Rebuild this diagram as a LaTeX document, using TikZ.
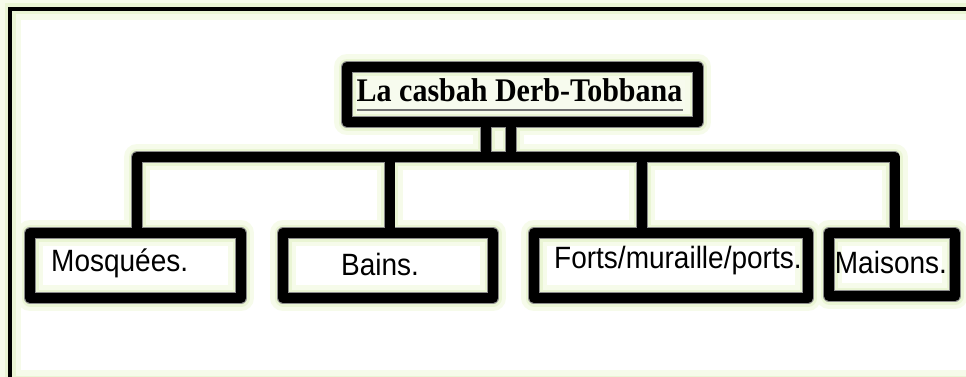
\documentclass[tikz,border=0pt]{standalone}
\usepackage{fontspec}
\newfontfamily\arialf{Liberation Sans}
\newfontfamily\timesf{Liberation Serif}
\definecolor{glowa}{RGB}{246,251,234}
\definecolor{glowb}{RGB}{234,245,212}
\definecolor{titlefill}{RGB}{247,251,238}
\tikzset{
  glowpassa/.style={draw=glowa, line width=26pt, line join=round},
  glowpassb/.style={draw=glowb, line width=17pt, line join=round},
  graypass/.style={draw=black!45, line width=11.5pt, line join=round},
  blackpass/.style={draw=black, line width=10pt, line join=round},
  boxnode/.style={draw=none, inner sep=0pt, outer sep=0pt},
  childtext/.style={inner sep=0pt, anchor=base west, font=\arialf\fontsize{28}{30}\selectfont},
  titletext/.style={inner sep=0pt, anchor=base west, font=\timesf\bfseries\fontsize{30}{32}\selectfont}
}
\newcommand\diagpass[1]{%
  \draw[#1] (ttl.north west) rectangle (ttl.south east);
  \draw[#1] (mos.north west) rectangle (mos.south east);
  \draw[#1] (bai.north west) rectangle (bai.south east);
  \draw[#1] (frt.north west) rectangle (frt.south east);
  \draw[#1] (mai.north west) rectangle (mai.south east);
  \draw[#1] (cm) -- (cm |- bar) -- (cx |- bar) -- (cx);
  \draw[#1] (cb) -- (cb |- bar);
  \draw[#1] (cf) -- (cf |- bar);
  \draw[#1] (ca) -- (ca |- bar);
  \draw[#1] (cc) -- (cc |- bar);
}
\newcommand\tallertext[1]{\scalebox{1}[1.1]{#1}}
\begin{document}
\begin{tikzpicture}[x=1pt,y=-1pt]
\useasboundingbox (0,0) rectangle (966,376);
\clip (0,0) rectangle (966,376);
\fill[white] (0,0) rectangle (966,376);
% outer frame
\coordinate (f1) at (10,8.7);
\coordinate (f2) at (1020,381);
\draw[glowa, line width=22pt] (f1) rectangle (f2);
\draw[glowb, line width=11pt] (f1) rectangle (f2);
\draw[black, line width=3.6pt] (f1) rectangle (f2);
% nodes
\node[boxnode, minimum width=351pt, minimum height=55pt] (ttl) at (522.5,94.5) {};
\node[boxnode, minimum width=211pt, minimum height=65pt] (mos) at (135.5,265.5) {};
\node[boxnode, minimum width=210pt, minimum height=65pt] (bai) at (388,265.5) {};
\node[boxnode, minimum width=274pt, minimum height=65pt] (frt) at (671,265.5) {};
\node[boxnode, minimum width=126pt, minimum height=63pt] (mai) at (892,264.5) {};
\coordinate (bar) at (516,157);
\coordinate (cm) at ([xshift=1.5pt]mos.north);
\coordinate (cb) at ([xshift=1.5pt]bai.north);
\coordinate (cf) at ([xshift=-29pt]frt.north);
\coordinate (cx) at ([xshift=2.7pt]mai.north);
\coordinate (ca) at ([xshift=-36.5pt]ttl.south);
\coordinate (cc) at ([xshift=-11.5pt]ttl.south);
\fill[titlefill] (ttl.north west) rectangle (ttl.south east);
\diagpass{glowpassa}
\diagpass{glowpassb}
\diagpass{graypass}
\diagpass{blackpass}
% texts
\node[titletext] (t0) at (356.5,101.7) {\tallertext{La casbah Derb-Tobbana}};
\draw[black!55, line width=1.4pt] ([yshift=-8.3pt]t0.base west) -- ([yshift=-8.3pt]t0.base east);
\node[childtext] (t1) at (51,271.7) {\tallertext{Mosquées.}};
\node[childtext] (t2) at (341,275) {\tallertext{Bains.}};
\node[childtext] (t3) at (554,268) {\tallertext{Forts/muraille/ports.}};
\node[childtext] (t4) at (834.7,273) {\tallertext{Maisons.}};
\end{tikzpicture}
\end{document}
